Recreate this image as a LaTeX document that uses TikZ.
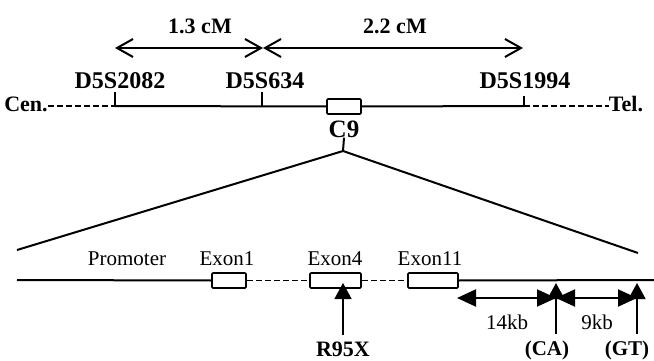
\documentclass[tikz,border=0pt]{standalone}
\usepackage{fontspec}
\setmainfont{Liberation Serif}
\usetikzlibrary{arrows.meta,positioning}

\tikzset{
  lbl/.style={font=\fontsize{#1}{#1}\selectfont\bfseries, inner sep=0pt},
  lbl/.default=22,
  plain/.style={font=\fontsize{21}{21}\selectfont, inner sep=0pt},
  exonbox/.style={draw, line width=1.6pt, rounded corners=1pt, minimum height=15pt, inner sep=0pt},
  chrom/.style={line width=2pt},
  gap/.style={line width=1.6pt, dash pattern=on 6pt off 3pt},
  barb/.style={line width=2pt, {Straight Barb[length=16pt,width=18pt]}-{Straight Barb[length=16pt,width=18pt]}},
  kb/.style={line width=2pt, {Triangle[length=19pt,width=17pt]}-{Triangle[length=19pt,width=17pt]}},
  snp/.style={line width=1.6pt, -{Triangle[length=16pt,width=17pt]}},
}

\begin{document}
\begin{tikzpicture}[x=1pt,y=-1pt]
  \useasboundingbox (0,0) rectangle (654,361);
  % chromosome map
  \node[lbl=22] (cen) at (26,104) {Cen.};
  \node[lbl=22] (tel) at (626,104) {Tel.};
  \coordinate (m1) at (115,106);
  \coordinate (m2) at (262,106);
  \coordinate (m3) at (524,106);
  \node[exonbox, minimum width=34pt] (c9box) at (344,106.5) {};
  \draw[gap] (m1 -| cen.east) -- (m1);
  \draw[chrom] (m1) -- (c9box.west);
  \draw[chrom] (c9box.east) -- (m3);
  \draw[gap] (m3) -- (m3 -| tel.west);
  \draw[chrom] (m1) -- ++(0,-14);
  \draw[chrom] (m2) -- ++(0,-14);
  \draw[chrom] (m3) -- ++(0,-10);
  \node[lbl=24] (d2082) at (120,81) {D5S2082};
  \node[lbl=24] (d634) at (265,81) {D5S634};
  \node[lbl=24] (d1994) at (525,81) {D5S1994};
  % genetic distances
  \coordinate (t1) at (115,48);
  \coordinate (t2) at (263,48);
  \coordinate (t3) at (523,48);
  \draw[barb] (t1) -- (t2);
  \draw[barb] (t2) -- (t3);
  \node[lbl] (cm1) at (200,26) {1.3 cM};
  \node[lbl] (cm2) at (395,26) {2.2 cM};
  % zoom into C9
  \node[lbl=25] (c9) at (344,129) {C9};
  \coordinate (apex) at (343,151);
  \coordinate (zl) at (17,250);
  \coordinate (zr) at (638,253);
  \draw[chrom] (c9.south) -- (apex);
  \draw[chrom] (zl) -- (apex) -- (zr);
  % gene structure
  \coordinate (gl) at (17,280);
  \coordinate (gr) at (654,280);
  \node[exonbox, minimum width=34pt] (ex1) at (229,280.5) {};
  \node[exonbox, minimum width=51pt] (ex4) at (335.5,280.5) {};
  \node[exonbox, minimum width=50pt] (ex11) at (433,280.5) {};
  \draw[chrom] (gl) -- (ex1.west);
  \draw[gap] (ex1.east) -- (ex4.west);
  \draw[gap] (ex4.east) -- (ex11.west);
  \draw[chrom] (ex11.east) -- (gr);
  \node[plain] (prom) at (127,259) {Promoter};
  \node[plain] (lex1) at (227,259) {Exon1};
  \node[plain] (lex4) at (335,259) {Exon4};
  \node[plain] (lex11) at (430,259) {Exon11};
  % mutation and microsatellites
  \node[lbl] (r95x) at (343,349) {R95X};
  \draw[snp] (r95x.north) ++(0,-6) -- (343,283);
  \node[lbl=21] (ca) at (547,350) {(CA)};
  \node[lbl=21] (gt) at (627,350) {(GT)};
  \coordinate (k0) at (457,298);
  \coordinate (k1) at (556,298);
  \coordinate (k2) at (637,298);
  \draw[kb] (k0) -- (k1);
  \draw[kb] (k1) -- (k2);
  \draw[snp] (556,334) -- (556,283);
  \draw[snp] (637,334) -- (637,283);
  \node[plain] (kb14) at (507,322) {14kb};
  \node[plain] (kb9) at (597,322) {9kb};
\end{tikzpicture}
\end{document}
